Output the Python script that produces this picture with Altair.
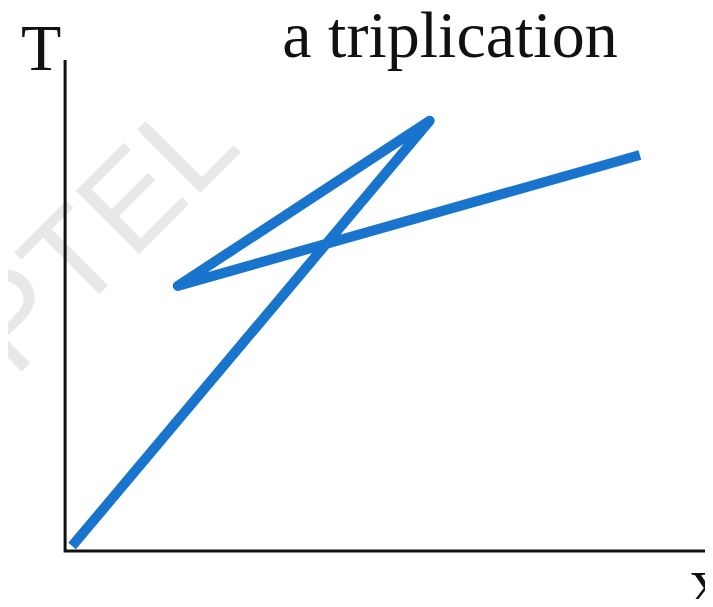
import altair as alt
import pandas as pd

# Curve vertices (composition x, temperature T)
curve_x = [0.008, 0.573, 0.175, 0.905]
curve_T = [0.008, 0.876, 0.539, 0.806]

# Axis lines (drawn as lines, L-shaped frame)
frame_x = [-0.003, -0.003, 1.05]
frame_T = [1.0, -0.002, -0.002]

# Text labels
label_text = ["T", "a triplication"]
label_x = [-0.041, 0.605]
label_T = [0.980, 1.006]
xlab_text = ["x"]
xlab_x = [0.984]
xlab_T = [-0.108]

wm_text = ["NPTEL"]
wm_x = [0.002]
wm_T = [0.572]

X_DOM = [-0.0932, 1.0079]
Y_DOM = [-0.1, 1.1061]

xs = alt.Scale(domain=X_DOM, nice=False, zero=False)
ys = alt.Scale(domain=Y_DOM, nice=False, zero=False)

curve = pd.DataFrame({"x": curve_x, "T": curve_T, "i": range(len(curve_x))})
frame = pd.DataFrame({"x": frame_x, "T": frame_T, "i": range(len(frame_x))})
labels = pd.DataFrame({"x": label_x, "T": label_T, "t": label_text})
xlab = pd.DataFrame({"x": xlab_x, "T": xlab_T, "t": xlab_text})
wm = pd.DataFrame({"x": wm_x, "T": wm_T, "t": wm_text})

X = alt.X("x:Q", scale=xs, axis=None)
Y = alt.Y("T:Q", scale=ys, axis=None)

watermark = alt.Chart(wm).mark_text(
    font="Liberation Sans", fontSize=130, angle=315, color="#e8e8e8",
    align="center", baseline="middle"
).encode(x=X, y=Y, text="t:N")

frame_line = alt.Chart(frame).mark_line(
    color="#111111", strokeWidth=3, strokeJoin="miter"
).encode(x=X, y=Y, order="i:Q")

curve_line = alt.Chart(curve).mark_line(
    color="#1874cd", strokeWidth=10, strokeJoin="round", strokeCap="butt"
).encode(x=X, y=Y, order="i:Q")

label_marks = alt.Chart(labels).mark_text(
    font="Liberation Serif", fontSize=66, color="#111111",
    align="center", baseline="alphabetic"
).encode(x=X, y=Y, text="t:N")

xlab_mark = alt.Chart(xlab).mark_text(
    font="Liberation Serif", fontSize=66, color="#111111",
    align="left", baseline="alphabetic"
).encode(x=X, y=Y, text="t:N")

chart = alt.layer(watermark, frame_line, curve_line, label_marks, xlab_mark).properties(
    width=697, height=591, padding=0, autosize=alt.AutoSizeParams(type="none"),
    view=alt.ViewBackground(stroke=None, strokeWidth=0)
).configure_view(strokeWidth=0, strokeOpacity=0).configure(background="white")

chart.save("out.html", embed_options={"renderer": "svg", "actions": False})
